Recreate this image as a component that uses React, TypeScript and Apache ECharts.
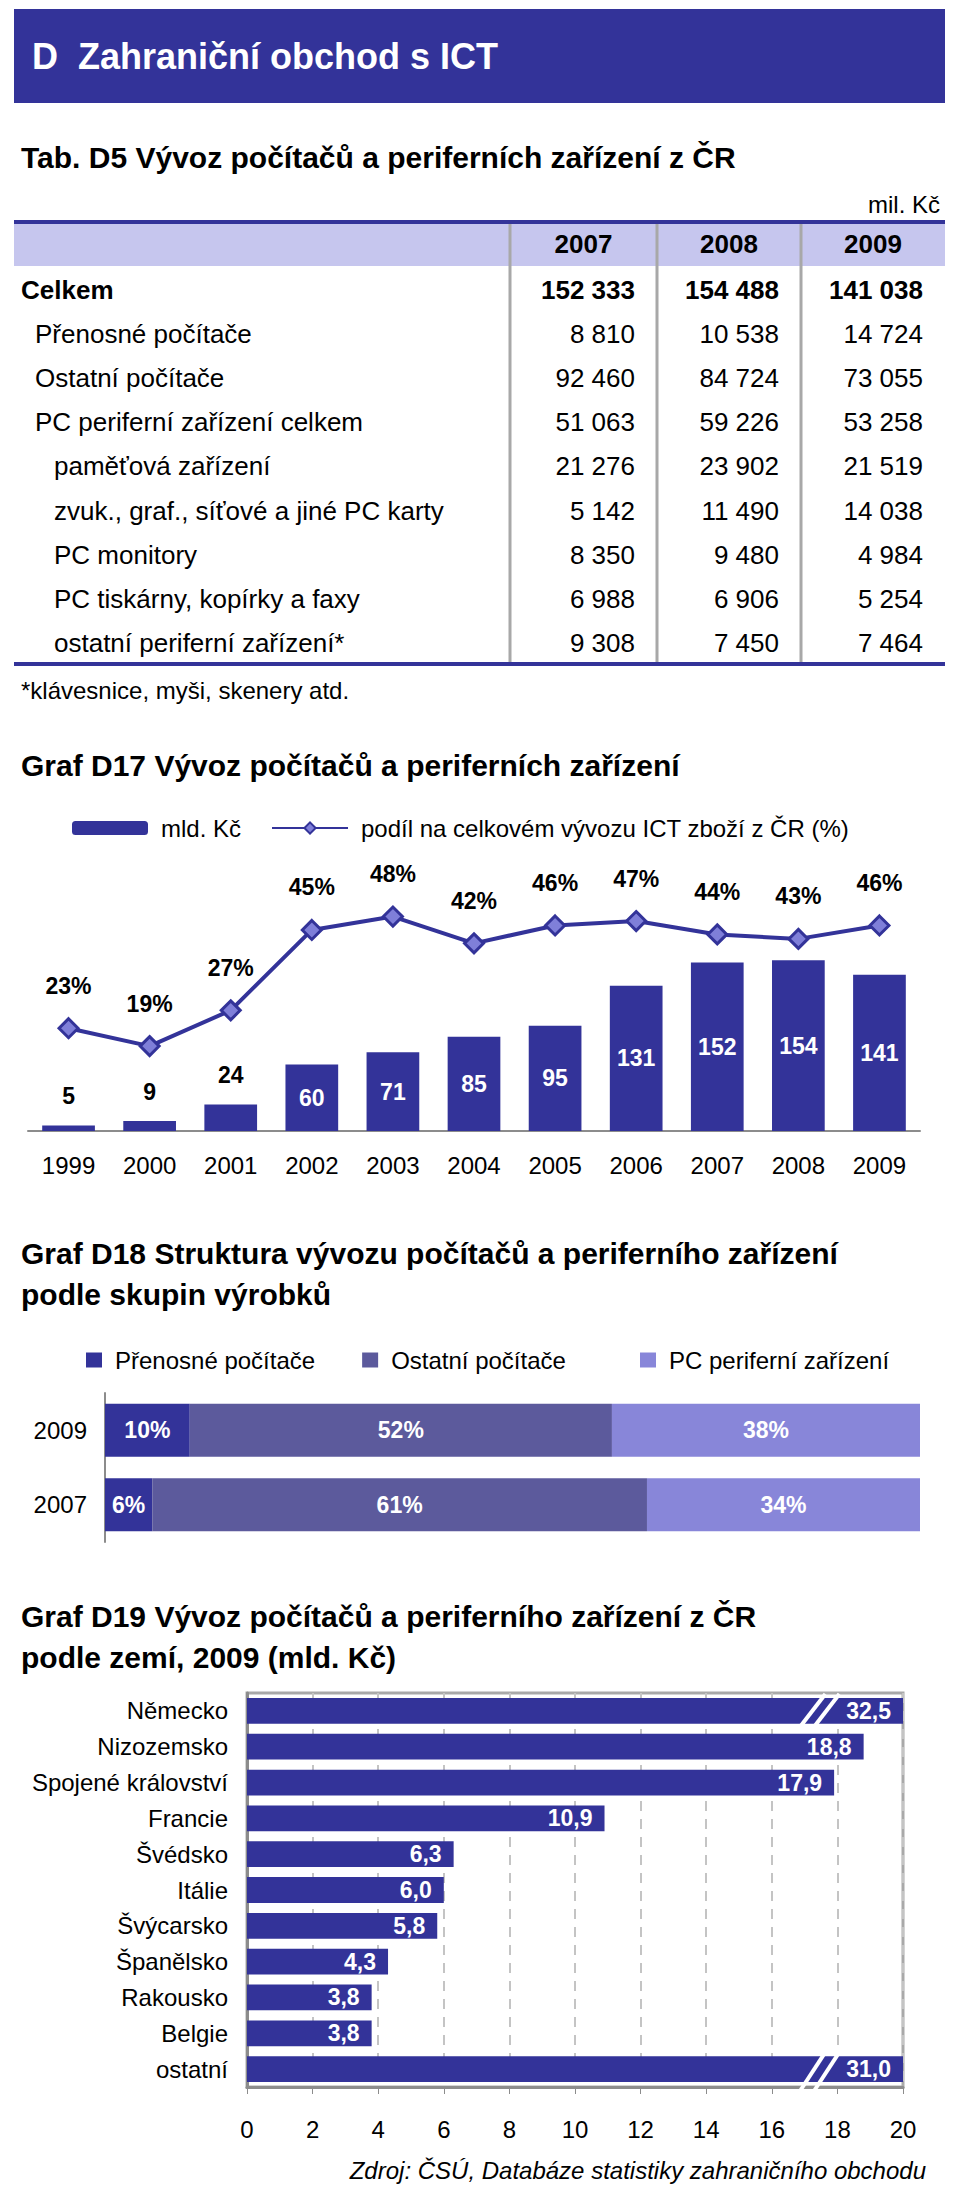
import React, { useEffect, useRef } from "react";
import * as echarts from "echarts";

// ---------- DATA ----------
const tableYears = ["2007", "2008", "2009"];
const tableLabels = [
  "Celkem",
  "Přenosné počítače",
  "Ostatní počítače",
  "PC periferní zařízení celkem",
  "paměťová zařízení",
  "zvuk., graf., síťové a jiné PC karty",
  "PC monitory",
  "PC tiskárny, kopírky a faxy",
  "ostatní periferní zařízení*",
];
const tableLevels = [0, 1, 1, 1, 2, 2, 2, 2, 2];
const table2007 = [152333, 8810, 92460, 51063, 21276, 5142, 8350, 6988, 9308];
const table2008 = [154488, 10538, 84724, 59226, 23902, 11490, 9480, 6906, 7450];
const table2009 = [141038, 14724, 73055, 53258, 21519, 14038, 4984, 5254, 7464];

const d17Years = ["1999", "2000", "2001", "2002", "2003", "2004", "2005", "2006", "2007", "2008", "2009"];
const d17Export = [5, 9, 24, 60, 71, 85, 95, 131, 152, 154, 141];
const d17Share = [23, 19, 27, 45, 48, 42, 46, 47, 44, 43, 46];

const d18Years = ["2009", "2007"];
const d18Notebooks = [10.4, 5.8];
const d18OtherPc = [51.8, 60.7];
const d18Peripherals = [37.8, 33.5];

const d19Countries = [
  "Německo", "Nizozemsko", "Spojené království", "Francie", "Švédsko", "Itálie",
  "Švýcarsko", "Španělsko", "Rakousko", "Belgie", "ostatní",
];
const d19Values = [32.5, 18.8, 17.9, 10.9, 6.3, 6.0, 5.8, 4.3, 3.8, 3.8, 31.0];

// ---------- STYLE ----------
const FONT = '"Liberation Sans", Arial, Helvetica, sans-serif';
const NAVY = "#333399";
const MID = "#5c5a9c";
const LIGHT = "#8886d9";
const AXIS_GRAY = "#8c8c8c";

const fmtThousands = (n: number) => String(n).replace(/\B(?=(\d{3})+(?!\d))/g, " ");

function txt(x: number, y: number, s: string, o: any = {}, align = "left") {
  return {
    type: "text",
    x,
    y,
    silent: true,
    style: {
      text: s,
      fontFamily: FONT,
      fontSize: o.fontSize ?? 24,
      fontWeight: o.fontWeight ?? "normal",
      fontStyle: o.fontStyle ?? "normal",
      fill: o.fill ?? "#000",
      textAlign: align,
      textVerticalAlign: "middle",
    },
  };
}

function buildGraphic(): any[] {
  const g: any[] = [];
  // header band
  g.push({ type: "rect", silent: true, shape: { x: 14, y: 9, width: 931, height: 94 }, style: { fill: NAVY } });
  g.push(txt(32, 56, "D  Zahraniční obchod s ICT", { fontSize: 36, fontWeight: "bold", fill: "#fff" }));
  // table title
  g.push(txt(21, 157, "Tab. D5 Vývoz počítačů a periferních zařízení z ČR", { fontSize: 30, fontWeight: "bold" }));
  g.push(txt(940, 204, "mil. Kč", { fontSize: 24 }, "right"));
  // table frame
  const tTop = 222, tHead = 44, tBottom = 663;
  g.push({ type: "rect", silent: true, shape: { x: 14, y: tTop, width: 931, height: tHead }, style: { fill: "#c6c6ee" } });
  const colLeft = [510, 657, 801];
  const colRight = [657, 801, 945];
  colLeft.forEach((x) =>
    g.push({ type: "line", silent: true, shape: { x1: x, y1: tTop, x2: x, y2: tBottom }, style: { stroke: "#a8a8a8", lineWidth: 3 } })
  );
  g.push({ type: "rect", silent: true, shape: { x: 14, y: tTop - 2, width: 931, height: 4 }, style: { fill: NAVY } });
  g.push({ type: "rect", silent: true, shape: { x: 14, y: tBottom - 1, width: 931, height: 4 }, style: { fill: NAVY } });
  tableYears.forEach((yr, i) =>
    g.push(txt((colLeft[i] + colRight[i]) / 2, tTop + tHead / 2, yr, { fontSize: 26, fontWeight: "bold" }, "center"))
  );
  const cols = [table2007, table2008, table2009];
  const indent = [21, 35, 54];
  tableLabels.forEach((lab, r) => {
    const y = 290 + r * 44.1;
    const bold = r === 0 ? "bold" : "normal";
    g.push(txt(indent[tableLevels[r]], y, lab, { fontSize: 26, fontWeight: bold }));
    cols.forEach((col, c) => g.push(txt(colRight[c] - 22, y, fmtThousands(col[r]), { fontSize: 26, fontWeight: bold }, "right")));
  });
  g.push(txt(21, 690, "*klávesnice, myši, skenery atd.", { fontSize: 24 }));
  // chart titles
  g.push(txt(21, 765, "Graf D17 Vývoz počítačů a periferních zařízení", { fontSize: 30, fontWeight: "bold" }));
  g.push(txt(21, 1253, "Graf D18 Struktura vývozu počítačů a periferního zařízení", { fontSize: 30, fontWeight: "bold" }));
  g.push(txt(21, 1294, "podle skupin výrobků", { fontSize: 30, fontWeight: "bold" }));
  g.push(txt(21, 1616, "Graf D19 Vývoz počítačů a periferního zařízení z ČR", { fontSize: 30, fontWeight: "bold" }));
  g.push(txt(21, 1657, "podle zemí, 2009 (mld. Kč)", { fontSize: 30, fontWeight: "bold" }));
  g.push(txt(926, 2170, "Zdroj: ČSÚ, Databáze statistiky zahraničního obchodu", { fontSize: 24, fontStyle: "italic" }, "right"));
  return g;
}

const D19_MAX = 20;
const BREAK_AT = 17.45;

export default function App() {
  const ref = useRef<HTMLDivElement>(null);
  useEffect(() => {
    if (!ref.current) return;
    const chart = echarts.init(ref.current, undefined, { renderer: "svg" });
    const graphic = buildGraphic();
    const labelBase = { fontFamily: FONT };
    const legendText = { fontSize: 24, color: "#000", fontFamily: FONT, padding: [0, 0, 0, 8] };

    const option: any = {
      animation: false,
      backgroundColor: "#fff",
      textStyle: { fontFamily: FONT },
      graphic,
      legend: [
        {
          left: 72,
          top: 816,
          padding: 0,
          itemWidth: 76,
          itemHeight: 14,
          itemGap: 30,
          textStyle: legendText,
          data: ["mld. Kč", "podíl na celkovém vývozu ICT zboží z ČR (%)"],
        },
        {
          left: 86,
          top: 1348,
          padding: 0,
          itemWidth: 16,
          itemHeight: 15,
          itemGap: 47,
          icon: "rect",
          textStyle: legendText,
          data: ["Přenosné počítače", "Ostatní počítače"],
        },
        {
          left: 640,
          top: 1348,
          padding: 0,
          itemWidth: 16,
          itemHeight: 15,
          icon: "rect",
          textStyle: legendText,
          data: ["PC periferní zařízení"],
        },
      ],
      grid: [
        { left: 28, width: 892, top: 854, height: 277 },
        { left: 105, width: 815, top: 1393, height: 149 },
        { left: 247, width: 656, top: 1693, height: 394, show: true, borderColor: "#a9a9a9", borderWidth: 3 },
      ],
      xAxis: [
        {
          gridIndex: 0,
          type: "category",
          data: d17Years,
          axisLine: { lineStyle: { color: AXIS_GRAY, width: 2 } },
          axisTick: { length: 8, lineStyle: { color: AXIS_GRAY } },
          axisLabel: { fontSize: 24, color: "#000", margin: 22, fontFamily: FONT },
        },
        { gridIndex: 1, type: "value", min: 0, max: 100, show: false },
        {
          gridIndex: 2,
          type: "value",
          min: 0,
          max: D19_MAX,
          interval: 2,
          axisLine: { show: true, onZero: false, lineStyle: { color: AXIS_GRAY, width: 3 } },
          axisTick: { show: true, length: 7, lineStyle: { color: AXIS_GRAY } },
          axisLabel: { fontSize: 24, color: "#000", margin: 30, fontFamily: FONT },
          splitLine: { show: true, lineStyle: { color: "#c4c4c4", type: [10, 8], width: 2 } },
        },
      ],
      yAxis: [
        { gridIndex: 0, type: "value", min: 0, max: 250, show: false },
        { gridIndex: 0, type: "value", min: 0, max: 62, show: false },
        {
          gridIndex: 1,
          type: "category",
          inverse: true,
          data: d18Years,
          axisLine: { lineStyle: { color: AXIS_GRAY, width: 2 } },
          axisTick: { length: 7, lineStyle: { color: AXIS_GRAY } },
          axisLabel: { fontSize: 24, color: "#000", margin: 18, fontFamily: FONT },
        },
        {
          gridIndex: 2,
          type: "category",
          inverse: true,
          data: d19Countries,
          axisLine: { lineStyle: { color: AXIS_GRAY, width: 3 } },
          axisTick: { length: 7, lineStyle: { color: AXIS_GRAY } },
          axisLabel: { fontSize: 24, color: "#000", margin: 19, fontFamily: FONT },
        },
      ],
      series: [
        {
          name: "mld. Kč",
          type: "bar",
          xAxisIndex: 0,
          yAxisIndex: 0,
          barWidth: "65%",
          itemStyle: { color: NAVY },
          data: d17Export.map((v, i) =>
            i < 3
              ? { value: v, label: { position: "top", distance: 18, color: "#000" } }
              : v
          ),
          label: {
            show: true,
            position: "inside",
            color: "#fff",
            fontSize: 23,
            fontWeight: "bold",
            ...labelBase,
          },
        },
        {
          name: "podíl na celkovém vývozu ICT zboží z ČR (%)",
          type: "line",
          xAxisIndex: 0,
          yAxisIndex: 1,
          data: d17Share,
          symbol: "diamond",
          symbolSize: 19,
          lineStyle: { color: NAVY, width: 4 },
          itemStyle: { color: "#7f7fd9", borderColor: NAVY, borderWidth: 3 },
          label: {
            show: true,
            position: "top",
            distance: 20,
            color: "#000",
            fontSize: 23,
            fontWeight: "bold",
            formatter: (p: any) => `${p.value}%`,
            ...labelBase,
          },
          z: 5,
        },
        ...[
          { name: "Přenosné počítače", data: d18Notebooks, color: NAVY },
          { name: "Ostatní počítače", data: d18OtherPc, color: MID },
          { name: "PC periferní zařízení", data: d18Peripherals, color: LIGHT },
        ].map((s) => ({
          name: s.name,
          type: "bar",
          stack: "d18",
          xAxisIndex: 1,
          yAxisIndex: 2,
          barWidth: "71%",
          data: s.data,
          itemStyle: { color: s.color },
          label: {
            show: true,
            position: "inside",
            color: "#fff",
            fontSize: 23,
            fontWeight: "bold",
            formatter: (p: any) => `${Math.round(p.value)}%`,
            ...labelBase,
          },
        })),
        {
          name: "d19",
          type: "bar",
          xAxisIndex: 2,
          yAxisIndex: 3,
          barWidth: "72%",
          clip: true,
          data: d19Values,
          itemStyle: { color: NAVY },
          label: {
            show: true,
            position: "insideRight",
            distance: 12,
            color: "#fff",
            fontSize: 23,
            fontWeight: "bold",
            formatter: (p: any) => Number(p.value).toFixed(1).replace(".", ","),
            ...labelBase,
          },
        },
      ],
    };
    chart.setOption(option);

    // axis-break marks on bars that exceed the axis maximum
    const marks: any[] = [];
    const p0 = chart.convertToPixel({ xAxisIndex: 2, yAxisIndex: 3 }, [0, 0]) as number[];
    const p1 = chart.convertToPixel({ xAxisIndex: 2, yAxisIndex: 3 }, [0, 1]) as number[];
    const half = (Math.abs(p1[1] - p0[1]) * 0.72) / 2;
    d19Values.forEach((v, i) => {
      if (v <= D19_MAX) return;
      const c = chart.convertToPixel({ xAxisIndex: 2, yAxisIndex: 3 }, [BREAK_AT, i]) as number[];
      const ext = i === d19Values.length - 1 ? 10 : 4;
      [-7, 7].forEach((dx) => {
        marks.push({
          type: "line",
          silent: true,
          z: 100,
          shape: { x1: c[0] + dx - 13, y1: c[1] + half + ext, x2: c[0] + dx + 13, y2: c[1] - half - 4 },
          style: { stroke: "#fff", lineWidth: 4 },
        });
      });
    });
    chart.setOption({ graphic: [...graphic, ...marks] });

    return () => chart.dispose();
  }, []);

  return (
    <div
      ref={ref}
      style={{ position: "absolute", left: 0, top: 0, width: 960, height: 2188, background: "#fff" }}
    />
  );
}
